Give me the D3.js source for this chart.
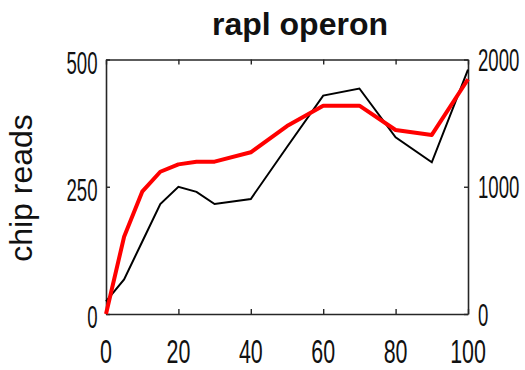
<!DOCTYPE html>
<html>
<head>
<meta charset="utf-8">
<script src="https://cdn.jsdelivr.net/npm/d3@7"></script>
<style>
  body { margin: 0; background: #fff; }
  text { font-family: "Liberation Sans", Arial, Helvetica, sans-serif; fill: #111; }
</style>
</head>
<body>
<svg id="chart" width="525" height="370"></svg>
<script>
// Position along the operon (%) and the two profiles measured there
const positions = [0, 5, 10, 15, 20, 25, 30, 40, 50, 60, 70, 80, 90, 100];
const chipReads = [25, 68, 142, 216, 250, 240, 216, 226, 328, 429, 443, 347, 298, 480];
const signal    = [0, 607, 961, 1118, 1176, 1197, 1197, 1271, 1477, 1637, 1637, 1446, 1407, 1845];

const xTicks = [0, 20, 40, 60, 80, 100];
const leftTicks = [0, 250, 500];
const rightTicks = [0, 1000, 2000];

const titleText = "rapl operon";
const yLabelText = "chip reads";

const box = { left: 106, right: 468, top: 59.5, bottom: 314 };

const svg = d3.select("#chart");

const x  = d3.scaleLinear().domain([0, 100]).range([box.left, box.right]);
const yL = d3.scaleLinear().domain([0, 500]).range([box.bottom, box.top]);
const yR = d3.scaleLinear().domain([0, 2000]).range([box.bottom, box.top]);

// Frame with inward ticks on all four sides
function styleAxis(g) {
  g.selectAll("path.domain").attr("stroke", "#262626").attr("stroke-width", 1.6);
  g.selectAll(".tick line").attr("stroke", "#262626").attr("stroke-width", 1.4);
}
svg.append("g").attr("transform", `translate(0,${box.bottom})`)
  .call(d3.axisBottom(x).tickValues(xTicks).tickSize(-5).tickSizeOuter(0).tickFormat(""))
  .call(styleAxis);
svg.append("g").attr("transform", `translate(0,${box.top})`)
  .call(d3.axisTop(x).tickValues(xTicks).tickSize(-5).tickSizeOuter(0).tickFormat(""))
  .call(styleAxis);
svg.append("g").attr("transform", `translate(${box.left},0)`)
  .call(d3.axisLeft(yL).tickValues(leftTicks).tickSize(-4).tickSizeOuter(0).tickFormat(""))
  .call(styleAxis);
svg.append("g").attr("transform", `translate(${box.right},0)`)
  .call(d3.axisRight(yR).tickValues(rightTicks).tickSize(-4).tickSizeOuter(0).tickFormat(""))
  .call(styleAxis);

// Condensed tick labels
const squeeze = 0.6;
svg.append("g").selectAll("text").data(xTicks).join("text")
  .attr("transform", d => `translate(${x(d)},362.5) scale(${squeeze + 0.03},1)`)
  .attr("text-anchor", "middle")
  .attr("font-size", 34)
  .text(d => d);
svg.append("g").selectAll("text").data(leftTicks).join("text")
  .attr("transform", d => `translate(97.5,${yL(d) + 14}) scale(${squeeze},1)`)
  .attr("text-anchor", "end")
  .attr("font-size", 31)
  .text(d => d);
svg.append("g").selectAll("text").data(rightTicks).join("text")
  .attr("transform", d => `translate(478,${yR(d) + 11.5}) scale(${squeeze},1)`)
  .attr("text-anchor", "start")
  .attr("font-size", 31)
  .text(d => d);

// Profiles
const lineLeft = d3.line().x((d, i) => x(positions[i])).y(d => yL(d));
const lineRight = d3.line().x((d, i) => x(positions[i])).y(d => yR(d));

svg.append("path").datum(chipReads)
  .attr("d", lineLeft)
  .attr("fill", "none").attr("stroke", "#000").attr("stroke-width", 2)
  .attr("stroke-linejoin", "miter");
svg.append("path").datum(signal)
  .attr("d", lineRight)
  .attr("fill", "none").attr("stroke", "#ff0000").attr("stroke-width", 4)
  .attr("stroke-linejoin", "round");

// Title and axis label
svg.append("text")
  .attr("x", 300).attr("y", 35)
  .attr("text-anchor", "middle")
  .attr("font-size", 32).attr("font-weight", "bold")
  .text(titleText);
svg.append("text")
  .attr("transform", "translate(32,188) rotate(-90)")
  .attr("text-anchor", "middle")
  .attr("font-size", 32)
  .text(yLabelText);
</script>
</body>
</html>
